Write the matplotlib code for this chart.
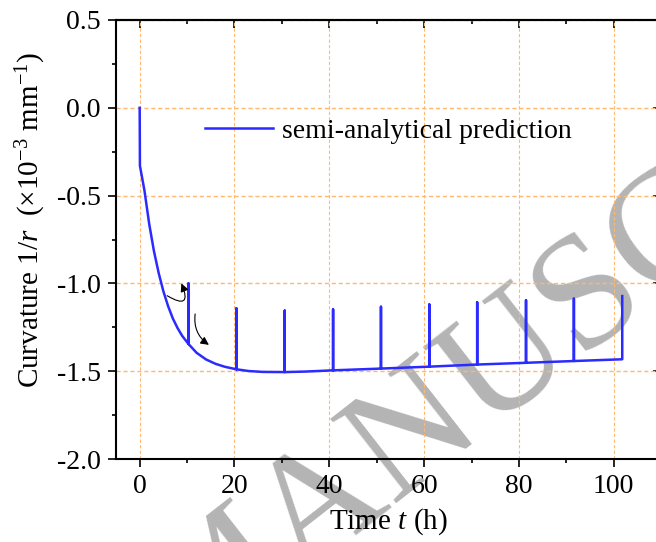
import matplotlib
matplotlib.use('Agg')
from matplotlib import pyplot as plt
from matplotlib.ticker import MultipleLocator

# Base curve (time in h, curvature in 1e-3 1/mm)
curve_t = [0, 0.05, 1, 2, 3, 4, 5, 6, 7, 8, 9, 10.3, 12, 14, 16, 18, 20.4, 23, 26,
           30.6, 35, 40.8, 50.9, 61.1, 71.2, 81.5, 91.6, 101.8]
curve_y = [0.0, -0.33, -0.47, -0.66, -0.815, -0.94, -1.045, -1.13, -1.20, -1.255,
           -1.30, -1.345, -1.395, -1.433, -1.458, -1.475, -1.489, -1.499, -1.504,
           -1.505, -1.502, -1.495, -1.485, -1.474, -1.462, -1.452, -1.442, -1.432]

# Spike times and their tops
spike_t = [10.3, 20.4, 30.6, 40.8, 50.9, 61.1, 71.2, 81.5, 91.6, 101.8]
spike_top = [-1.00, -1.142, -1.155, -1.148, -1.133, -1.12, -1.108, -1.096, -1.087, -1.072]

xticks = [0, 20, 40, 60, 80, 100]
yticks = [-2.0, -1.5, -1.0, -0.5, 0.0, 0.5]

plt.rcParams['font.family'] = 'Liberation Serif'
plt.rcParams['mathtext.fontset'] = 'custom'
plt.rcParams['mathtext.rm'] = 'Liberation Serif'
plt.rcParams['mathtext.it'] = 'Liberation Serif:italic'

blue = '#2B2BFF'
grid_c = '#FFB870'

# Build the path with spikes inserted
path_t, path_y = [], []
for t, y in zip(curve_t, curve_y):
    path_t.append(t)
    path_y.append(y)
    if t in spike_t:
        top = spike_top[spike_t.index(t)]
        path_t.append(t)
        path_y.append(top)
        if t != spike_t[-1]:
            path_t.append(t)
            path_y.append(y)

fig = plt.figure(figsize=(6.56, 5.42), dpi=100)
ax = fig.add_axes([0.1768, 0.1531, 0.831, 0.810])
ax.set_zorder(1)
ax.patch.set_facecolor('none')

# watermark
fig.text(0.915, 0.372, 'MANUSCRIPT', rotation=38, rotation_mode='anchor',
         ha='center', va='baseline', fontsize=118, color='#B4B4B4', zorder=0)

# grid lines
for x in xticks:
    ax.axvline(x, color=grid_c, ls=(0, (3, 2)), lw=0.8, zorder=1)
for y in yticks:
    ax.axhline(y, color=grid_c, ls=(0, (3, 2)), lw=1.0, zorder=1)

ax.plot(path_t, path_y, c=blue, lw=1.8, label='semi-analytical prediction', zorder=3)

ax.annotate('', xy=(8.8, -1.0), xytext=(5.8, -1.07),
            arrowprops=dict(arrowstyle='-|>', connectionstyle='arc3,rad=1.5',
                            color='black', lw=0.8, mutation_scale=12,
                            shrinkA=0, shrinkB=0))
ax.annotate('', xy=(14.6, -1.35), xytext=(11.7, -1.174),
            arrowprops=dict(arrowstyle='-|>', connectionstyle='arc3,rad=0.3',
                            color='black', lw=0.8, mutation_scale=12,
                            shrinkA=0, shrinkB=0))

ax.set_xlim(-5, 110)
ax.set_ylim(-2.0, 0.5)
ax.set_xticks(xticks)
ax.set_yticks(yticks)
ax.set_yticklabels(['%.1f' % v for v in yticks])
ax.xaxis.set_minor_locator(MultipleLocator(10))
ax.yaxis.set_minor_locator(MultipleLocator(0.25))
ax.tick_params(which='major', direction='out', length=6, width=1.2, labelsize=20, pad=5)
ax.tick_params(which='minor', direction='out', length=3, width=1.2)
for s in ax.spines.values():
    s.set_linewidth(1.5)

top = ax.secondary_xaxis('top')
top.set_xticks(xticks)
top.xaxis.set_minor_locator(MultipleLocator(10))
top.tick_params(which='major', direction='in', length=6, width=1.2, labeltop=False)
top.tick_params(which='minor', direction='in', length=3, width=1.2)
top.spines['top'].set_linewidth(1.5)

right = ax.secondary_yaxis('right')
right.set_yticks(yticks)
right.yaxis.set_minor_locator(MultipleLocator(0.25))
right.tick_params(which='major', direction='in', length=6, width=1.2, labelright=False)
right.tick_params(which='minor', direction='in', length=3, width=1.2)

ax.set_xlabel('Time $t$ (h)', fontsize=21, labelpad=5)
ax.set_ylabel('Curvature 1/$r$  (×10$^{-3}$ mm$^{-1}$)', fontsize=21)
ax.yaxis.set_label_coords(-0.125, 0.544)

ax.legend(loc='center left', bbox_to_anchor=(0.163, 0.747), frameon=False,
          fontsize=20, handlelength=2.45, handletextpad=0.32,
          borderpad=0, borderaxespad=0)

fig.savefig('out.png', dpi=100)
